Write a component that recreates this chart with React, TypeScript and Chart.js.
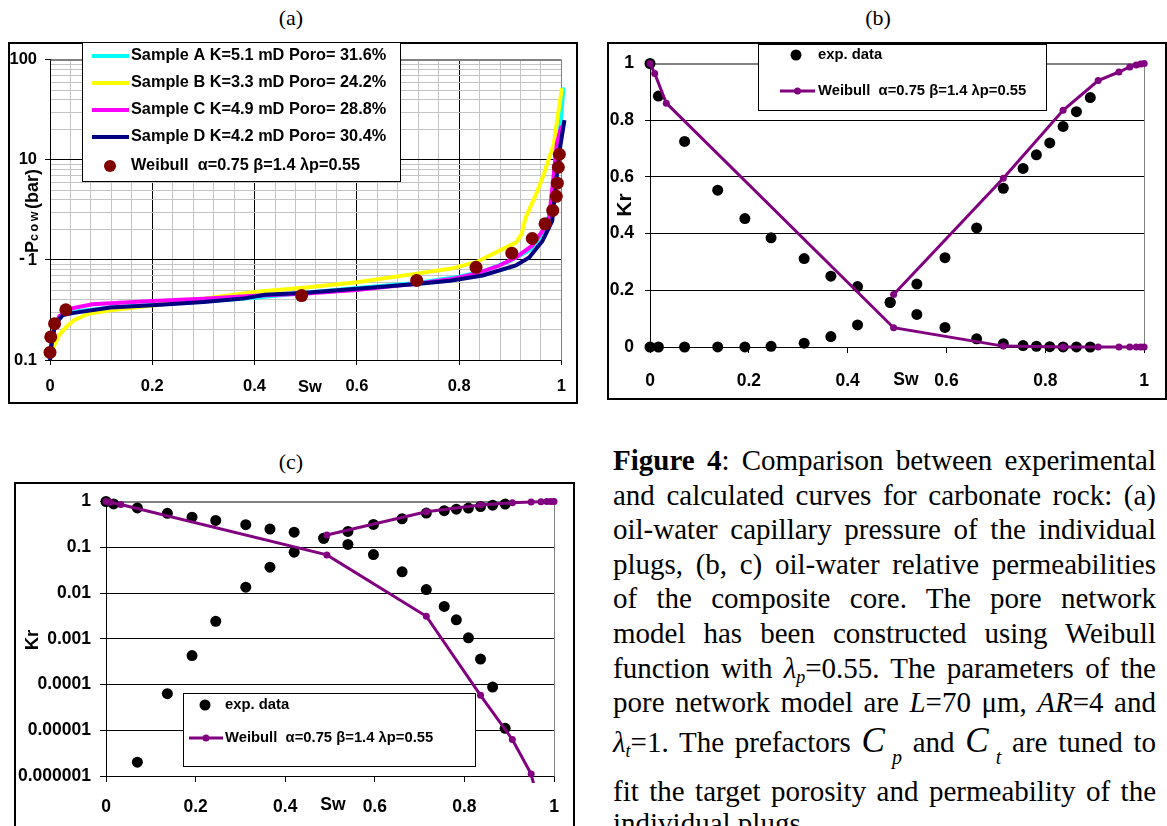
import React, { useEffect, useRef } from "react";
import { Chart, registerables } from "chart.js";
Chart.register(...registerables);

const SANS = "'Liberation Sans', Arial, sans-serif";
const SERIF = "'Liberation Serif', 'Times New Roman', serif";

// ---------------- Panel (a): capillary pressure ----------------
const legendA = [
  "Sample A K=5.1 mD Poro= 31.6%",
  "Sample B K=3.3 mD Poro= 24.2%",
  "Sample C K=4.9 mD Poro= 28.8%",
  "Sample D K=4.2 mD Poro= 30.4%",
  "Weibull  \u03b1=0.75 \u03b2=1.4 \u03bbp=0.55",
];
const colorsA = ["#00FFFF", "#FFFF00", "#FF00FF", "#000080"];

const swA = [0, 0.004, 0.011, 0.025, 0.05, 0.12, 0.2, 0.3, 0.4, 0.5, 0.6, 0.717, 0.8, 0.85, 0.9, 0.943, 0.965, 0.98, 0.99, 0.995, 1.004, 1.013];
const pcA = [0.1, 0.17, 0.24, 0.285, 0.305, 0.335, 0.355, 0.385, 0.42, 0.47, 0.525, 0.59, 0.68, 0.78, 0.98, 1.3, 1.9, 3.2, 6, 14.5, 53, 100];

const swB = [0, 0.004, 0.018, 0.032, 0.047, 0.075, 0.118, 0.2, 0.3, 0.4, 0.5, 0.6, 0.717, 0.782, 0.833, 0.879, 0.911, 0.922, 0.93, 0.95, 0.966, 0.976, 0.985, 0.994, 1.001, 1.008];
const pcB = [0.12, 0.126, 0.178, 0.215, 0.25, 0.29, 0.315, 0.35, 0.41, 0.478, 0.53, 0.6, 0.73, 0.815, 0.95, 1.24, 1.49, 1.81, 2.65, 4.5, 7.3, 10.5, 14.4, 30, 52, 62];

const swC = [0, 0.003, 0.007, 0.018, 0.04, 0.083, 0.2, 0.3, 0.4, 0.495, 0.6, 0.717, 0.782, 0.833, 0.879, 0.911, 0.943, 0.963, 0.976, 0.983, 0.991, 1.0, 1.008];
const pcC = [0.11, 0.15, 0.2, 0.274, 0.327, 0.36, 0.389, 0.41, 0.44, 0.46, 0.5, 0.58, 0.64, 0.73, 0.88, 1.06, 1.39, 1.95, 2.65, 5.65, 14.5, 22, 30];

const swD = [0, 0.004, 0.011, 0.025, 0.047, 0.118, 0.2, 0.3, 0.377, 0.42, 0.5, 0.6, 0.717, 0.782, 0.846, 0.911, 0.937, 0.963, 0.982, 0.991, 0.998, 1.006, 1.011];
const pcD = [0.1, 0.159, 0.232, 0.281, 0.296, 0.335, 0.353, 0.38, 0.411, 0.45, 0.47, 0.516, 0.575, 0.62, 0.7, 0.88, 1.06, 1.55, 2.45, 7, 14, 25, 39];

const wSwA = [0, 0.0015, 0.009, 0.031, 0.492, 0.717, 0.833, 0.903, 0.943, 0.968, 0.983, 0.99, 0.992, 0.994, 0.996];
const wPcA = [0.119, 0.17, 0.231, 0.318, 0.441, 0.624, 0.845, 1.17, 1.64, 2.3, 3.13, 4.33, 5.86, 8.45, 11.4];

const xTicksA = [0, 0.04, 0.08, 0.12, 0.16, 0.2, 0.24, 0.28, 0.32, 0.36, 0.4, 0.44, 0.48, 0.52, 0.56, 0.6, 0.64, 0.68, 0.72, 0.76, 0.8, 0.84, 0.88, 0.92, 0.96, 1];
const xLabelsA = ["0", "0.2", "0.4", "0.6", "0.8", "1"];
const yDecadesA = [0.1, 1, 10, 100];
const yLabelsA = ["0.1", "1", "10", "100"];

// ---------------- Panels (b) and (c): relative permeability ----------------
const expSw = [0, 0.017, 0.07, 0.137, 0.192, 0.245, 0.312, 0.366, 0.42, 0.486, 0.54, 0.597, 0.661, 0.715, 0.755, 0.782, 0.809, 0.836, 0.863, 0.891];
const expKro = [1, 0.885, 0.725, 0.553, 0.453, 0.385, 0.312, 0.25, 0.213, 0.157, 0.115, 0.069, 0.029, 0.0119, 0.0051, 0.0026, 0.00105, 0.00036, 0.000088, 0.000011];
const expKrw = [0, 0, 0.000002, 0.000063, 0.00043, 0.0024, 0.0134, 0.0367, 0.078, 0.158, 0.222, 0.315, 0.42, 0.56, 0.63, 0.678, 0.72, 0.778, 0.83, 0.88];

const wSw = [0, 0.0095, 0.033, 0.493, 0.715, 0.836, 0.907, 0.949, 0.971, 0.984, 0.993, 1.0];
const wKro = [1, 0.965, 0.86, 0.068, 0.0031, 0.000058, 0.0000063, 0.0000011, 1.5e-7, 3e-8, 8e-9, 2e-9];
const wKrw = [null, null, null, 0.185, 0.595, 0.835, 0.94, 0.97, 0.988, 0.995, 0.998, 1.0];

const legendKr = ["exp. data", "Weibull  \u03b1=0.75 \u03b2=1.4 \u03bbp=0.55"];
const xTicksKr = [0, 0.2, 0.4, 0.6, 0.8, 1];
const xLabelsKr = ["0", "0.2", "0.4", "0.6", "0.8", "1"];
const yTicksB = [0, 0.2, 0.4, 0.6, 0.8, 1];
const yLabelsB = ["0", "0.2", "0.4", "0.6", "0.8", "1"];
const yTicksC = [0.000001, 0.00001, 0.0001, 0.001, 0.01, 0.1, 1];
const yLabelsC = ["0.000001", "0.00001", "0.0001", "0.001", "0.01", "0.1", "1"];

const PURPLE = "#800080";

// ---------------- helpers ----------------
const pts = (xs: number[], ys: (number | null)[], positiveOnly = false) =>
  xs
    .map((x, i) => ({ x, y: ys[i] }))
    .filter((p) => p.y !== null && (!positiveOnly || (p.y as number) > 0));

const bold = (size: number) => `bold ${size}px ${SANS}`;

function drawText(ctx: any, s: string, x: number, y: number, font: string, align: any = "left") {
  ctx.save();
  ctx.font = font;
  ctx.fillStyle = "#000";
  ctx.textAlign = align;
  ctx.textBaseline = "middle";
  ctx.fillText(s, x, y);
  ctx.restore();
}

function drawRotated(ctx: any, s: string, x: number, y: number, font: string) {
  ctx.save();
  ctx.translate(x, y);
  ctx.rotate(-Math.PI / 2);
  drawText(ctx, s, 0, 0, font, "center");
  ctx.restore();
}

function panelBorder(chart: any) {
  const ctx = chart.ctx;
  ctx.save();
  ctx.strokeStyle = "#000";
  ctx.lineWidth = 2;
  ctx.strokeRect(1, 1, chart.width - 2, chart.height - 2);
  ctx.restore();
}

function legendBox(ctx: any, x: number, y: number, w: number, h: number) {
  ctx.save();
  ctx.fillStyle = "#fff";
  ctx.fillRect(x, y, w, h);
  ctx.strokeStyle = "#000";
  ctx.lineWidth = 1;
  ctx.strokeRect(x + 0.5, y + 0.5, w, h);
  ctx.restore();
}

function dot(ctx: any, x: number, y: number, r: number, color: string) {
  ctx.save();
  ctx.fillStyle = color;
  ctx.beginPath();
  ctx.arc(x, y, r, 0, Math.PI * 2);
  ctx.fill();
  ctx.restore();
}

function seg(ctx: any, x1: number, x2: number, y: number, w: number, color: string) {
  ctx.save();
  ctx.strokeStyle = color;
  ctx.lineWidth = w;
  ctx.beginPath();
  ctx.moveTo(x1, y);
  ctx.lineTo(x2, y);
  ctx.stroke();
  ctx.restore();
}

function greyFrame(chart: any) {
  const { left, right, top, bottom } = chart.chartArea;
  const ctx = chart.ctx;
  ctx.save();
  ctx.strokeStyle = "#808080";
  ctx.lineWidth = 1;
  ctx.beginPath();
  ctx.moveTo(Math.round(left) + 0.5, Math.round(top) + 0.5);
  ctx.lineTo(Math.round(right) + 0.5, Math.round(top) + 0.5);
  ctx.lineTo(Math.round(right) + 0.5, Math.round(bottom) + 0.5);
  ctx.stroke();
  ctx.restore();
}

const isDecade = (v: number) => Math.abs(Math.log10(v) - Math.round(Math.log10(v))) < 1e-6;

const yTicksAllA: number[] = [];
for (let d = 0; d < 3; d++) {
  for (let k = 1; k <= 9; k++) yTicksAllA.push(Number((yDecadesA[d] * k).toPrecision(3)));
}
yTicksAllA.push(yDecadesA[3]);

// ---------------- configs ----------------
function configA(): any {
  const line = (i: number, xs: number[], ys: number[]) => ({
    label: legendA[i],
    data: pts(xs, ys),
    showLine: true,
    borderColor: colorsA[i],
    backgroundColor: colorsA[i],
    borderWidth: 4,
    pointRadius: 0,
    order: 4 - i,
    clip: { left: 2, right: 12, top: 2, bottom: 2 },
  });
  const decor = {
    id: "decorA",
    beforeDatasetsDraw(chart: any) {
      greyFrame(chart);
    },
    afterDraw(chart: any) {
      const ctx = chart.ctx;
      panelBorder(chart);
      // legend
      legendBox(ctx, 74, 0, 318, 139);
      const rows = [14, 41, 68, 95, 124];
      for (let i = 0; i < 4; i++) {
        seg(ctx, 84, 121, rows[i], 4, colorsA[i]);
        drawText(ctx, legendA[i], 123, rows[i], bold(16.3));
      }
      dot(ctx, 102, rows[4], 6, "#800000");
      drawText(ctx, legendA[4], 123, rows[4], bold(16.3));
      // y title  -Pcow(bar): the minus sign sits upright at the foot of the rotated title
      drawText(ctx, "-", 14, 217, bold(18), "center");
      ctx.save();
      ctx.translate(23, 169);
      ctx.rotate(-Math.PI / 2);
      ctx.fillStyle = "#000";
      ctx.textBaseline = "alphabetic";
      ctx.textAlign = "left";
      const parts = [
        { t: "P", f: bold(18), ls: "0px" },
        { t: "cow", f: bold(12.5), ls: "2.5px" },
        { t: "(bar)", f: bold(18), ls: "0px" },
      ];
      let total = 0;
      const ws: number[] = [];
      for (const p of parts) {
        ctx.font = p.f;
        (ctx as any).letterSpacing = p.ls;
        const w = ctx.measureText(p.t).width;
        ws.push(w);
        total += w;
      }
      let x = -total / 2;
      parts.forEach((p, i) => {
        ctx.font = p.f;
        (ctx as any).letterSpacing = p.ls;
        ctx.fillText(p.t, x, 6.5);
        x += ws[i];
      });
      ctx.restore();
      // Sw
      drawText(ctx, "Sw", 302, 345, bold(16.5), "center");
    },
  };
  return {
    type: "scatter",
    data: {
      datasets: [
        line(0, swA, pcA),
        line(1, swB, pcB),
        line(2, swC, pcC),
        line(3, swD, pcD),
        {
          label: legendA[4],
          data: pts(wSwA, wPcA),
          pointRadius: 6.5,
          pointBackgroundColor: "#800000",
          pointBorderColor: "#800000",
          pointBorderWidth: 0,
          order: 0,
          clip: false,
        },
      ],
    },
    options: {
      responsive: false,
      animation: false,
      events: [],
      layout: { padding: { left: 0, top: 16, right: 12, bottom: 0 } },
      plugins: { legend: { display: false }, tooltip: { enabled: false } },
      scales: {
        x: {
          type: "linear",
          min: 0,
          max: 1,
          afterBuildTicks: (s: any) => {
            s.ticks = xTicksA.map((v) => ({ value: v }));
          },
          afterFit: (s: any) => {
            s.height = 44;
          },
          ticks: {
            autoSkip: false,
            maxRotation: 0,
            padding: 12,
            color: "#000",
            font: { family: SANS, size: 16.5, weight: "bold" },
            callback: (_v: any, i: number) => (i % 5 === 0 ? xLabelsA[i / 5] : ""),
          },
          grid: {
            color: (c: any) =>
              c.index === xTicksA.length - 1 ? "#808080" : c.index % 5 === 0 ? "#000" : "#c4c4c4",
            tickColor: (c: any) => (c.index % 5 === 0 ? "#000" : "rgba(0,0,0,0)"),
            tickLength: 5,
            lineWidth: 1,
          },
          border: { display: true, color: "#000", width: 1 },
        },
        y: {
          type: "logarithmic",
          min: 0.1,
          max: 100,
          afterBuildTicks: (s: any) => {
            s.ticks = yTicksAllA.map((v) => ({ value: v }));
          },
          afterFit: (s: any) => {
            s.width = 42;
          },
          ticks: {
            autoSkip: false,
            padding: 8,
            color: "#000",
            font: { family: SANS, size: 16.5, weight: "bold" },
            callback: (v: any) => {
              const k = yDecadesA.findIndex((d) => Math.abs(d - v) < 1e-9);
              return k >= 0 ? yLabelsA[k] : "";
            },
          },
          grid: {
            color: (c: any) =>
              c.tick && c.tick.value >= 100
                ? "#808080"
                : c.tick && isDecade(c.tick.value)
                ? "#000"
                : "#c4c4c4",
            tickColor: (c: any) => (c.tick && isDecade(c.tick.value) ? "#000" : "rgba(0,0,0,0)"),
            tickLength: 5,
            lineWidth: 1,
          },
          border: { display: true, color: "#000", width: 1 },
        },
      },
    },
    plugins: [decor],
  };
}

function configKr(log: boolean): any {
  const L = log
    ? { yWidth: 92, xHeight: 60, top: 19, right: 21, tickPadX: 15, tickPadY: 9, tickLenY: 6, font: 17.5 }
    : { yWidth: 43, xHeight: 53, top: 19, right: 10, tickPadX: 18, tickPadY: 11, tickLenY: 5, font: 17.5 };
  const lg = log
    ? { x: 169, y: 211, w: 292, h: 73, r1: 223, r2: 256, dotX: 191, l1: 175, l2: 209, tx: 211, title: [33 - 14, 640 - 482], sw: [333 - 14, 805 - 482], kr: 18.5 }
    : { x: 151, y: 2, w: 288, h: 66, r1: 13, r2: 49, dotX: 189, l1: 173, l2: 208, tx: 211, title: [18, 163], sw: [299, 338], kr: 21 };
  const yTicks = log ? yTicksC : yTicksB;
  const yLabels = log ? yLabelsC : yLabelsB;
  const decor = {
    id: "decorKr",
    beforeDatasetsDraw(chart: any) {
      greyFrame(chart);
    },
    afterDraw(chart: any) {
      const ctx = chart.ctx;
      panelBorder(chart);
      legendBox(ctx, lg.x, lg.y, lg.w, lg.h);
      dot(ctx, lg.dotX, lg.r1, 5.5, "#000");
      drawText(ctx, legendKr[0], lg.tx, lg.r1, bold(14.8));
      seg(ctx, lg.l1, lg.l2, lg.r2, 3, PURPLE);
      dot(ctx, (lg.l1 + lg.l2) / 2, lg.r2, 3.5, PURPLE);
      drawText(ctx, legendKr[1], lg.tx, lg.r2, bold(14.8));
      drawRotated(ctx, "Kr", lg.title[0], lg.title[1], bold(lg.kr));
      drawText(ctx, "Sw", lg.sw[0], lg.sw[1], bold(L.font), "center");
    },
  };
  const expStyle = {
    pointRadius: 5.5,
    pointBackgroundColor: "#000",
    pointBorderColor: "#000",
    pointBorderWidth: 0,
    clip: false,
    order: 2,
  };
  const wStyle = {
    showLine: true,
    borderColor: PURPLE,
    backgroundColor: PURPLE,
    borderWidth: 3,
    pointRadius: 3.5,
    pointBackgroundColor: PURPLE,
    pointBorderColor: PURPLE,
    pointBorderWidth: 0,
    order: 1,
    clip: log ? { left: 10, right: 10, top: 10, bottom: 7 } : false,
  };
  return {
    type: "scatter",
    data: {
      datasets: [
        { label: legendKr[0] + " kro", data: pts(expSw, expKro, log), ...expStyle },
        { label: legendKr[0] + " krw", data: pts(expSw, expKrw, log), ...expStyle },
        { label: legendKr[1] + " kro", data: pts(wSw, wKro, log), ...wStyle },
        { label: legendKr[1] + " krw", data: pts(wSw, wKrw, log), ...wStyle },
      ],
    },
    options: {
      responsive: false,
      animation: false,
      events: [],
      layout: { padding: { left: 0, top: L.top, right: L.right, bottom: 0 } },
      plugins: { legend: { display: false }, tooltip: { enabled: false } },
      scales: {
        x: {
          type: "linear",
          min: 0,
          max: 1,
          afterBuildTicks: (s: any) => {
            s.ticks = xTicksKr.map((v) => ({ value: v }));
          },
          afterFit: (s: any) => {
            s.height = L.xHeight;
          },
          ticks: {
            autoSkip: false,
            maxRotation: 0,
            padding: L.tickPadX,
            color: "#000",
            font: { family: SANS, size: L.font, weight: "bold" },
            callback: (_v: any, i: number) => xLabelsKr[i],
          },
          grid: { drawOnChartArea: false, drawTicks: true, tickLength: 6, tickColor: "#000" },
          border: { display: true, color: "#000", width: 1 },
        },
        y: {
          type: log ? "logarithmic" : "linear",
          min: yTicks[0],
          max: yTicks[yTicks.length - 1],
          afterBuildTicks: (s: any) => {
            s.ticks = yTicks.map((v) => ({ value: v }));
          },
          afterFit: (s: any) => {
            s.width = L.yWidth;
          },
          ticks: {
            autoSkip: false,
            padding: L.tickPadY,
            color: "#000",
            font: { family: SANS, size: L.font, weight: "bold" },
            callback: (_v: any, i: number) => yLabels[i],
          },
          grid: {
            color: (c: any) => (c.index === yTicks.length - 1 ? "#808080" : "#000"),
            tickColor: "#000",
            tickLength: L.tickLenY,
            lineWidth: 1,
          },
          border: { display: true, color: "#000", width: 1 },
        },
      },
    },
    plugins: [decor],
  };
}

function ChartCanvas({ make, left, top, width, height }: any) {
  const ref = useRef<HTMLCanvasElement>(null);
  useEffect(() => {
    const chart = new Chart(ref.current as HTMLCanvasElement, make());
    return () => chart.destroy();
  }, []);
  return (
    <canvas
      ref={ref}
      width={width}
      height={height}
      style={{ position: "absolute", left, top, width, height, display: "block" }}
    />
  );
}

const cap: React.CSSProperties = {
  position: "absolute",
  left: 613,
  width: 543,
  fontFamily: SERIF,
  fontSize: 29,
  lineHeight: "34px",
  textAlign: "justify",
  textAlignLast: "justify",
  color: "#000",
  margin: 0,
};
const subS: React.CSSProperties = { fontSize: "0.62em", verticalAlign: "-0.28em", lineHeight: 0 };
const bigC: React.CSSProperties = { fontSize: 35, fontStyle: "italic", lineHeight: 0 };
const bigSub: React.CSSProperties = { fontSize: 20, fontStyle: "italic", verticalAlign: "-12px", lineHeight: 0, marginLeft: 7 };

const panelTitle = (t: string, cx: number, top: number) => (
  <div
    style={{
      position: "absolute",
      left: cx - 50,
      top,
      width: 100,
      textAlign: "center",
      fontFamily: SERIF,
      fontSize: 22,
      lineHeight: "24px",
      color: "#000",
    }}
  >
    {t}
  </div>
);

export default function App() {
  return (
    <div
      style={{
        position: "absolute",
        left: 0,
        top: 0,
        width: 1167,
        height: 826,
        overflow: "hidden",
        background: "#fff",
      }}
    >
      {panelTitle("(a)", 291, 6)}
      {panelTitle("(b)", 878, 6)}
      {panelTitle("(c)", 291, 450)}
      <ChartCanvas make={configA} left={8} top={42} width={570} height={362} />
      <ChartCanvas make={() => configKr(false)} left={607} top={42} width={560} height={358} />
      <ChartCanvas make={() => configKr(true)} left={14} top={482} width={561} height={354} />

      <div style={{ ...cap, top: 443 }}>
        <b>Figure 4</b>: Comparison between experimental
      </div>
      <div style={{ ...cap, top: 477.6 }}>and calculated curves for carbonate rock: (a)</div>
      <div style={{ ...cap, top: 512.2 }}>oil-water capillary pressure of the individual</div>
      <div style={{ ...cap, top: 546.8 }}>plugs, (b, c) oil-water relative permeabilities</div>
      <div style={{ ...cap, top: 581.4 }}>of the composite core. The pore network</div>
      <div style={{ ...cap, top: 616 }}>model has been constructed using Weibull</div>
      <div style={{ ...cap, top: 650.6 }}>
        function with <i>λ<sub style={subS}>p</sub></i>=0.55. The parameters of the
      </div>
      <div style={{ ...cap, top: 685.2 }}>
        pore network model are <i>L</i>=70 μm, <i>AR</i>=4 and
      </div>
      <div style={{ ...cap, top: 725 }}>
        <i>λ<sub style={subS}>t</sub></i>=1. The prefactors <span style={bigC}>C</span>
        <span style={bigSub}>p</span> and <span style={bigC}>C</span>
        <span style={bigSub}>t</span> are tuned to
      </div>
      <div style={{ ...cap, top: 773.5 }}>fit the target porosity and permeability of the</div>
      <div style={{ ...cap, top: 806, textAlign: "left", textAlignLast: "left" }}>individual plugs.</div>
    </div>
  );
}
